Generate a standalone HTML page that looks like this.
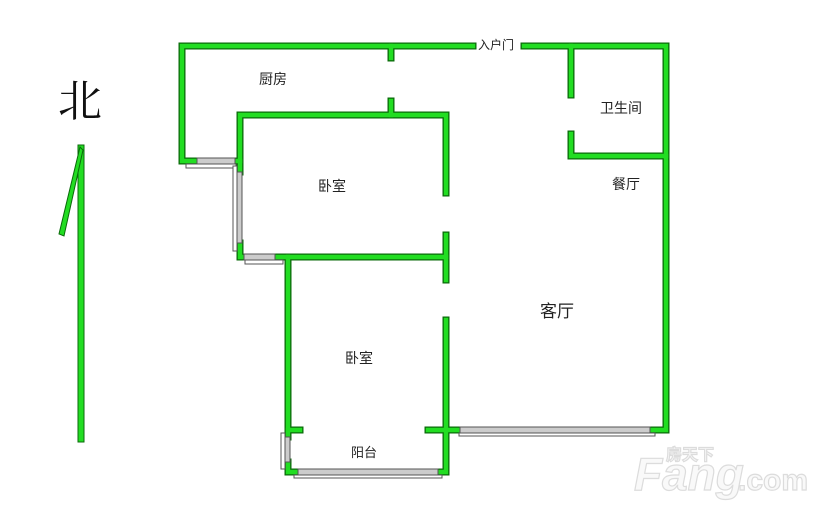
<!DOCTYPE html>
<html><head><meta charset="utf-8"><style>
html,body{margin:0;padding:0;background:#fff;}
svg{display:block;}
text{font-family:"Liberation Sans","Noto Sans CJK SC",sans-serif;fill:#222;}
</style></head><body>
<svg width="828" height="511" viewBox="0 0 828 511" xmlns="http://www.w3.org/2000/svg">
<defs>
<g id="walls">
<path d="M473 46 H182 V161 H197"/>
<path d="M235 161 H240"/>
<path d="M524 46 H666 V430 H650"/>
<path d="M391 46 V58"/>
<path d="M391 101 V115"/>
<path d="M240 243 V257 H244"/>
<path d="M275 257 H446"/>
<path d="M446 193 V115 H240 V172"/>
<path d="M446 235 V280"/>
<path d="M446 320 V472 H438"/>
<path d="M288 257 V437"/>
<path d="M288 462 V472 H298"/>
<path d="M288 430 H300"/>
<path d="M428 430 H460"/>
<path d="M571 46 V95"/>
<path d="M571 134 V156 H666"/>
</g>
</defs>
<g fill="none" stroke="#0a6a0a" stroke-width="7" stroke-linecap="square" stroke-linejoin="miter"><use href="#walls"/></g>
<g fill="none" stroke="#22dd22" stroke-width="4.4" stroke-linecap="square" stroke-linejoin="miter"><use href="#walls"/></g>

<g fill="#fff" stroke="#555" stroke-width="1">
<rect x="197" y="158" width="38" height="6" fill="#ccc"/>
<rect x="186" y="164" width="50" height="4"/>
<rect x="237" y="172" width="5" height="71" fill="#ccc"/>
<rect x="233" y="166" width="4" height="85"/>
<rect x="244" y="254" width="31" height="6" fill="#ccc"/>
<rect x="245" y="260" width="38" height="4"/>
<rect x="460" y="427" width="190" height="6" fill="#ccc"/>
<rect x="459" y="433" width="196" height="3"/>
<rect x="285" y="437" width="5" height="25" fill="#ccc"/>
<rect x="281" y="433" width="4" height="36"/>
<rect x="298" y="469" width="140" height="6" fill="#ccc"/>
<rect x="294" y="475" width="148" height="3"/>
</g>

<path d="M78 145 L84 145 L84 442 L78 442 Z" fill="#22dd22" stroke="#0a6a0a" stroke-width="1"/>
<path d="M80 147 L83 150 L64 236 L59 234 Z" fill="#22dd22" stroke="#0a6a0a" stroke-width="1"/>
<text x="58" y="116" font-size="44" style="font-family:'Noto Serif CJK SC','Noto Sans CJK SC',serif;fill:#111">北</text>

<g font-size="14">
<text x="259" y="84">厨房</text>
<text x="318" y="191">卧室</text>
<text x="345" y="363">卧室</text>
<text x="600" y="113">卫生间</text>
<text x="612" y="189">餐厅</text>
<text x="351" y="457" font-size="13">阳台</text>
<text x="540" y="317" font-size="17">客厅</text>
<text x="478" y="49" font-size="12">入户门</text>
</g>

<g stroke="#dcdcdc" stroke-width="1.2">
<text x="634" y="490" font-size="46" font-weight="bold" font-style="italic" style="fill:#f9f9f9">Fang</text>
<text x="738" y="490" font-size="30" font-weight="bold" style="fill:#f9f9f9">.com</text>
<text x="666" y="460" font-size="16" font-weight="bold" style="fill:#f9f9f9">房天下</text>
</g>
</svg>
</body></html>
